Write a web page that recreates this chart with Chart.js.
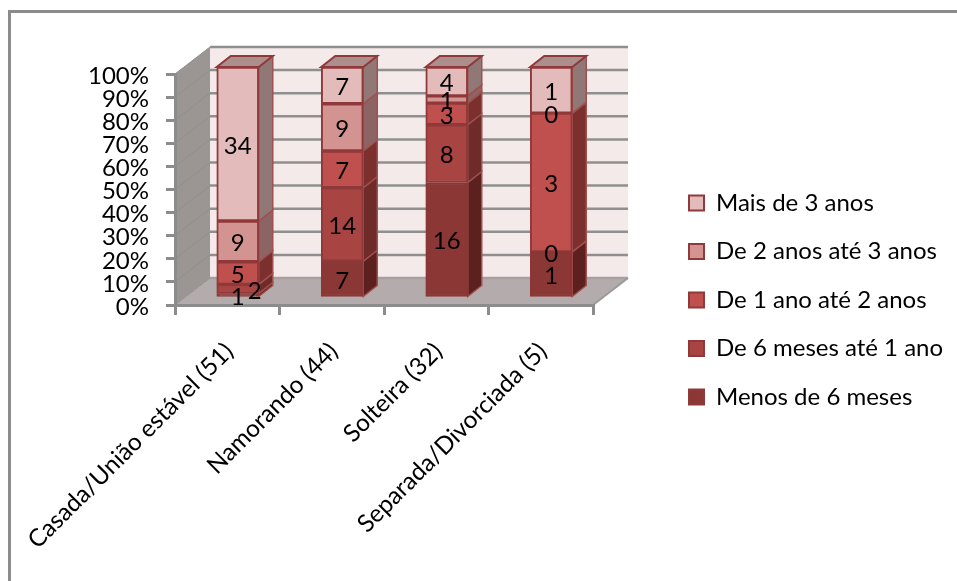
<!DOCTYPE html>
<html lang="pt">
<head>
<meta charset="utf-8">
<title>Tempo de relacionamento por estado civil</title>
<script src="https://cdn.jsdelivr.net/npm/chart.js@4"></script>
<style>
    html, body { margin: 0; padding: 0; background: #fff; overflow: hidden; }
    #wrap { width: 957px; height: 581px; }
    canvas { display: block; }
</style>
</head>
<body>
<div id="wrap"><canvas id="relChart" width="957" height="581"></canvas></div>
<script>
// Contagens por estado civil
const categorias = ['Casada/União estável (51)', 'Namorando (44)', 'Solteira (32)', 'Separada/Divorciada (5)'];
const menos6Meses = [1, 7, 16, 1];
const de6MesesA1Ano = [2, 14, 8, 0];
const de1A2Anos = [5, 7, 3, 3];
const de2A3Anos = [9, 9, 1, 0];
const mais3Anos = [34, 7, 4, 1];
const rotulos = ['Menos de 6 meses', 'De 6 meses até 1 ano', 'De 1 ano até 2 anos', 'De 2 anos até 3 anos', 'Mais de 3 anos'];

const series = [menos6Meses, de6MesesA1Ano, de1A2Anos, de2A3Anos, mais3Anos];
const totais = categorias.map((_, i) => series.reduce((soma, s) => soma + s[i], 0));

const cores = ['#8b3735', '#a84442', '#c0504d', '#d39391', '#e3bbba'];
const coresLado = ['#5c211f', '#6f2b29', '#7b302e', '#8c6463', '#917877'];
const corBorda = '#90393a';
const corTopo = '#ac8f8d';
const fonte = 'Lato, sans-serif';

// profundidade do "3D": parede do fundo e frente das barras
const fundo = { dx: 35, dy: -27 };
const frente = { dx: 10.5, dy: -7 };
const lado = { dx: 14, dy: -11 };

function poly(ctx, pts, fill, stroke, lw) {
    ctx.beginPath();
    pts.forEach((p, i) => i ? ctx.lineTo(p[0], p[1]) : ctx.moveTo(p[0], p[1]));
    ctx.closePath();
    if (fill) { ctx.fillStyle = fill; ctx.fill(); }
    if (stroke) { ctx.strokeStyle = stroke; ctx.lineWidth = lw || 1; ctx.stroke(); }
}

const caixa3d = {
    id: 'caixa3d',
    // a legenda fica à direita da área do gráfico
    afterLayout(chart) {
        Object.assign(chart.legend, { left: 664.5, right: 957, top: 166.5, bottom: 500 });
    },
    beforeDraw(chart) {
        const { ctx, scales: { x, y } } = chart;
        const l = x.left, r = x.right, t = y.top, b = y.bottom;
        ctx.save();
        // moldura externa (só topo e esquerda aparecem)
        ctx.strokeStyle = '#8c8c8c';
        ctx.lineWidth = 3;
        ctx.beginPath();
        ctx.moveTo(9.5, 581);
        ctx.lineTo(9.5, 11.5);
        ctx.lineTo(957, 11.5);
        ctx.stroke();
        // paredes e piso
        poly(ctx, [[l + fundo.dx, t + fundo.dy], [r + fundo.dx, t + fundo.dy], [r + fundo.dx, b + fundo.dy], [l + fundo.dx, b + fundo.dy]], '#f5eaea');
        poly(ctx, [[l, t], [l + fundo.dx, t + fundo.dy], [l + fundo.dx, b + fundo.dy], [l, b]], '#9b9694');
        poly(ctx, [[l, b], [l + fundo.dx, b + fundo.dy], [r + fundo.dx, b + fundo.dy], [r, b]], '#b4acac');
        // linhas de grade na parede lateral e no fundo
        y.ticks.forEach((tick, i) => {
            const py = y.getPixelForTick(i);
            ctx.strokeStyle = '#8f8f8f';
            ctx.lineWidth = 1;
            ctx.beginPath();
            ctx.moveTo(l, py);
            ctx.lineTo(l + fundo.dx, py + fundo.dy);
            ctx.stroke();
            ctx.lineWidth = 2.5;
            ctx.strokeStyle = i === 0 ? '#a8a0a0' : '#8f8f8f';
            ctx.beginPath();
            ctx.moveTo(l + fundo.dx, py + fundo.dy);
            ctx.lineTo(r + fundo.dx, py + fundo.dy);
            ctx.stroke();
        });
        ctx.strokeStyle = '#9a9a9a';
        ctx.lineWidth = 2;
        ctx.beginPath();
        ctx.moveTo(r, b);
        ctx.lineTo(r + fundo.dx, b + fundo.dy);
        ctx.stroke();
        ctx.restore();
    },
    beforeDatasetsDraw(chart) {
        const { ctx } = chart;
        ctx.save();
        ctx.translate(frente.dx, frente.dy);
        // faces laterais e topo de cada segmento
        chart.getSortedVisibleDatasetMetas().forEach(meta => {
            meta.data.forEach(bar => {
                const p = bar.getProps(['x', 'y', 'base', 'width'], true);
                const dir = p.x + p.width / 2;
                poly(ctx, [[dir, p.y], [dir + lado.dx, p.y + lado.dy], [dir + lado.dx, p.base + lado.dy], [dir, p.base]],
                    coresLado[meta.index], '#a0504e', 1.5);
            });
        });
        chart.getDatasetMeta(series.length - 1).data.forEach(bar => {
            const p = bar.getProps(['x', 'y', 'width'], true);
            const e = p.x - p.width / 2, d = p.x + p.width / 2;
            poly(ctx, [[e, p.y], [d, p.y], [d + lado.dx, p.y + lado.dy], [e + lado.dx, p.y + lado.dy]], corTopo, corBorda, 2);
        });
    },
    afterDatasetsDraw(chart) {
        const { ctx } = chart;
        // rótulos com as contagens
        ctx.font = '24px ' + fonte;
        ctx.fillStyle = '#000';
        ctx.textAlign = 'center';
        ctx.textBaseline = 'middle';
        series.forEach((s, k) => {
            chart.getDatasetMeta(k).data.forEach((bar, i) => {
                const p = bar.getProps(['x', 'y', 'base'], true);
                // o rótulo "2" da primeira barra fica deslocado, ao lado do "1"
                const desvio = (k === 1 && i === 0) ? 17 : 0;
                ctx.fillText(String(s[i]), p.x + desvio, (p.y + p.base) / 2 + 2);
            });
        });
        ctx.restore();
    }
};

new Chart(document.getElementById('relChart'), {
    type: 'bar',
    data: {
        labels: categorias,
        datasets: series.map((s, k) => ({
            label: rotulos[k],
            data: s.map((v, i) => v / totais[i] * 100),
            backgroundColor: cores[k],
            borderColor: k === 0 ? cores[0] : corBorda,
            borderWidth: 2,
            borderSkipped: false,
            barThickness: 42
        }))
    },
    plugins: [caixa3d],
    options: {
        responsive: false,
        animation: false,
        layout: { autoPadding: false, padding: { left: 90, top: 74, right: 364, bottom: 0 } },
        plugins: {
            tooltip: { enabled: false },
            legend: {
                position: 'chartArea',
                align: 'start',
                reverse: true,
                labels: {
                    color: '#000',
                    font: { family: fonte, size: 24 },
                    boxWidth: 15,
                    boxHeight: 15,
                    padding: 24.5,
                    generateLabels(chart) {
                        return chart.data.datasets.map((d, i) => ({
                            text: d.label,
                            fillStyle: cores[i],
                            strokeStyle: corBorda,
                            lineWidth: 2,
                            datasetIndex: i
                        }));
                    }
                }
            }
        },
        scales: {
            x: {
                stacked: true,
                afterFit(scale) {
                    scale.height = 276;
                    scale.paddingLeft = 0;
                    scale.paddingRight = 0;
                },
                grid: { offset: true, drawOnChartArea: false, color: '#8c8c8c', lineWidth: 3, tickLength: 10 },
                border: { color: '#8c8c8c', width: 3 },
                ticks: { color: '#000', font: { family: fonte, size: 24.3 }, minRotation: 45, maxRotation: 45, padding: 22, labelOffset: 2, autoSkip: false }
            },
            y: {
                stacked: true,
                min: 0,
                max: 100,
                afterFit(scale) { scale.width = 85; },
                grid: { drawOnChartArea: false, color: '#8c8c8c', lineWidth: 3, tickLength: 9 },
                border: { color: '#8c8c8c', width: 3 },
                ticks: { color: '#000', font: { family: fonte, size: 24 }, stepSize: 10, padding: 17, labelOffset: 2, autoSkip: false, callback: v => v + '%' }
            }
        }
    }
});
</script>
</body>
</html>
